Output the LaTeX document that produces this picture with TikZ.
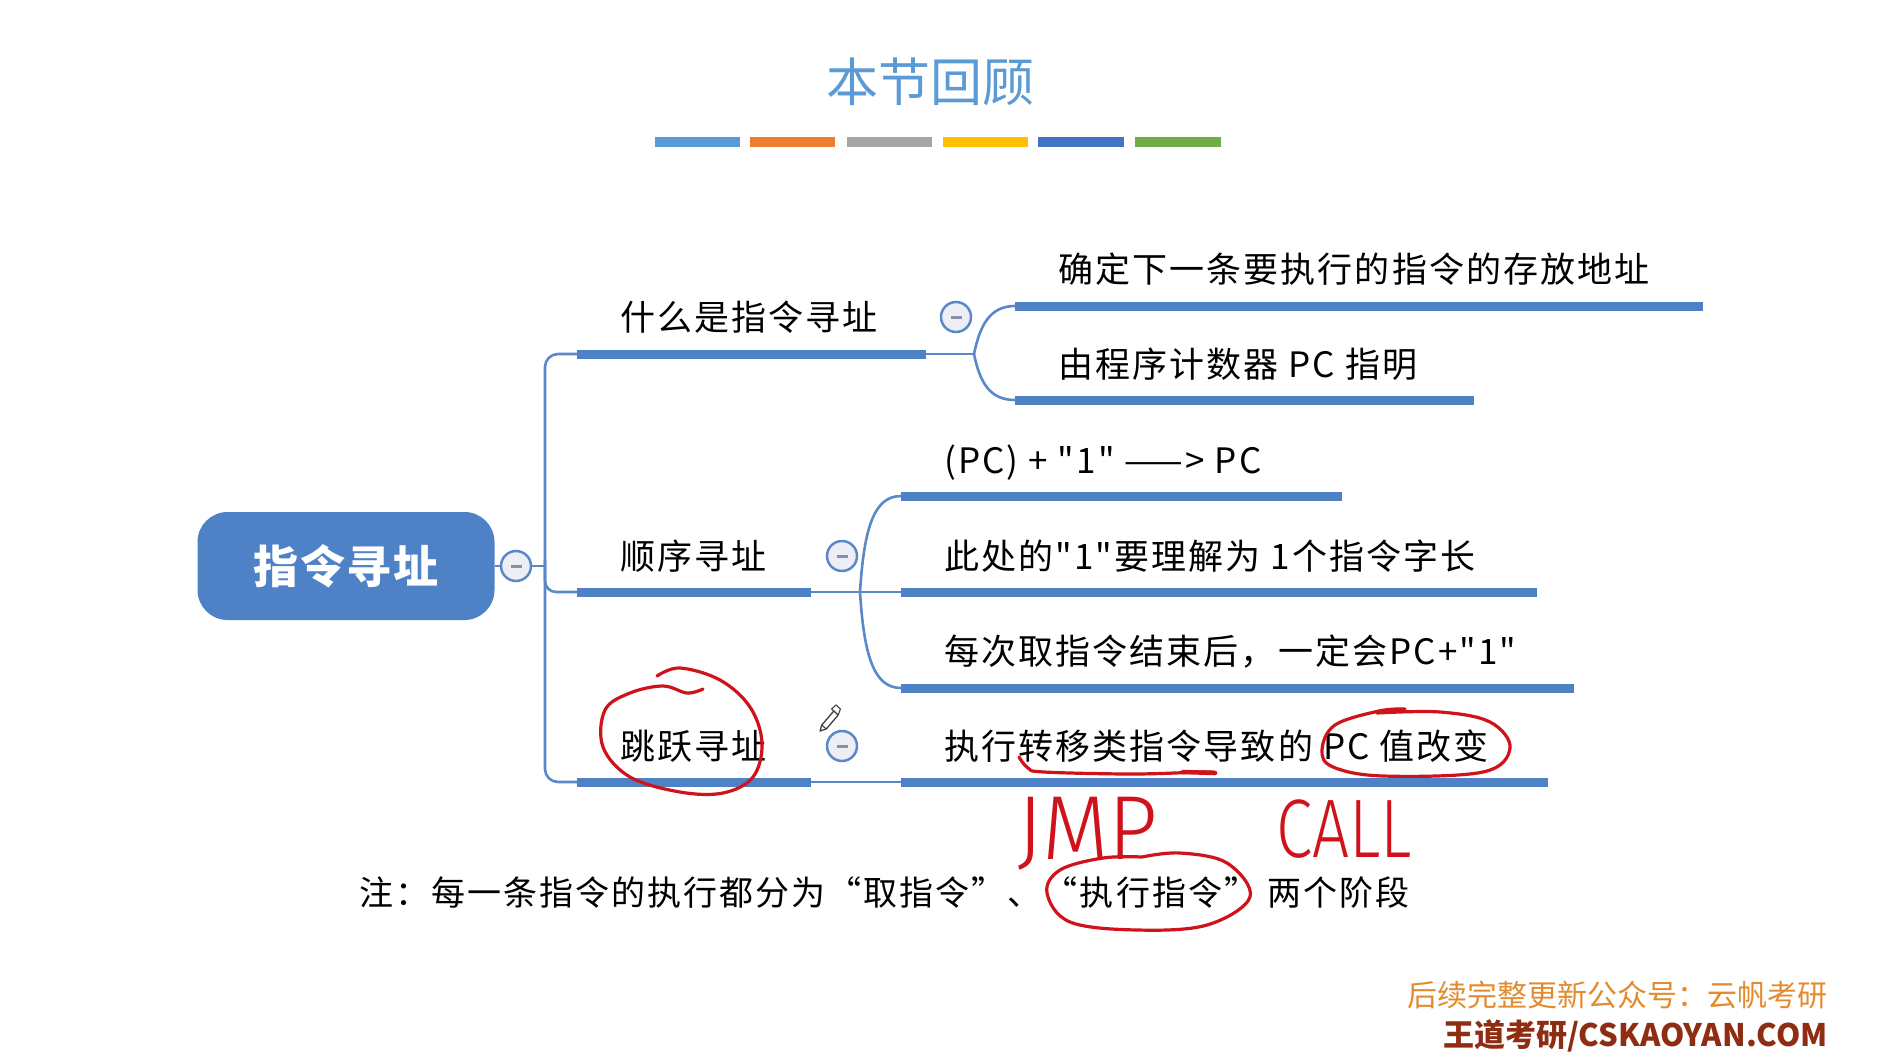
\documentclass[tikz,border=0pt]{standalone}
\usepackage{fontspec}
\newfontfamily\cjk{Noto Sans CJK SC}
\newfontfamily\cjkls{Noto Sans CJK SC}[LetterSpace=6]
\newfontfamily\cjknote{Noto Sans CJK SC}[LetterSpace=6]
\newfontfamily\hand{Fira Sans Light}
\definecolor{mmblue}{HTML}{4F81C7}
\definecolor{lineblue}{HTML}{5A88C8}
\definecolor{titleblue}{HTML}{5B9BD5}
\definecolor{bBlue}{HTML}{5B9BD5}
\definecolor{bOrange}{HTML}{ED7D31}
\definecolor{bGray}{HTML}{A5A5A5}
\definecolor{bYellow}{HTML}{FFC000}
\definecolor{bDark}{HTML}{4472C4}
\definecolor{bGreen}{HTML}{70AD47}
\definecolor{inkred}{HTML}{D0121B}
\definecolor{footorange}{HTML}{E38B2F}
\definecolor{footbrown}{HTML}{8E2D12}
\definecolor{circfill}{HTML}{EEEFF4}
\definecolor{minusgray}{HTML}{8A8FAE}
\begin{document}
\begin{tikzpicture}[x=1pt,y=-1pt,
  txt/.style={font=\cjkls\fontsize{35}{40}\selectfont, anchor=base west, inner sep=0pt},
  bar/.style={line width=9pt, mmblue},
  conn/.style={line width=2.6pt, lineblue},
  rootbox/.style={fill=mmblue, rounded corners=30pt, minimum width=297pt, minimum height=108pt,
     text=white, font=\cjk\bfseries\fontsize{45}{50}\selectfont\addfontfeature{LetterSpace=4}},
  collapse/.style={circle, draw=lineblue, line width=2.5pt, fill=circfill, minimum size=30pt, inner sep=0pt},
  ink/.style={draw=inkred, line width=3.2pt, line cap=round, line join=round},
  handtxt/.style={font=\hand, text=inkred, anchor=base west, inner sep=0pt}
]
\useasboundingbox (0,0) rectangle (1902,1062);
\fill[white] (0,0) rectangle (1902,1062);

% title
\node[font=\cjk\fontsize{52}{56}\selectfont, text=titleblue, anchor=base, inner sep=0pt] (title) at (930,102) {本节回顾};
\fill[bBlue]   (655,137) rectangle (740,147);
\fill[bOrange] (750,137) rectangle (835,147);
\fill[bGray]   (847,137) rectangle (932,147);
\fill[bYellow] (943,137) rectangle (1028,147);
\fill[bDark]   (1038,137) rectangle (1124,147);
\fill[bGreen]  (1135,137) rectangle (1221,147);

% root
\node[rootbox] (root) at (346,566) {指令寻址};
\node[collapse] (c0) at (516,566) {\textcolor{minusgray}{\rule{11pt}{3pt}}};

% spine coordinates
\coordinate (sRoot) at (545,566);
\coordinate (sTop) at (545,354);
\coordinate (sBot) at (545,782);
\coordinate (sMid) at (545,560);
\coordinate (sMidC) at (545,592);
\coordinate (q1s) at (577,354); \coordinate (q1e) at (926,354);
\coordinate (q2s) at (577,592); \coordinate (q2e) at (811,592);
\coordinate (q3s) at (577,782); \coordinate (q3e) at (811,782);

\draw[conn] (root.east) -- (c0.west);
\draw[conn] (c0.east) -- (sRoot);
\draw[conn, rounded corners=13pt] (q1s) -- (sTop) -- (sBot) -- (q3s);
\draw[conn, rounded corners=11pt] (sMid) -- (sMidC) -- (q2s);

% level 1 labels and bars
\node[txt] (q1) at (620,330) {什么是指令寻址};
\node[txt] (q2) at (620,569) {顺序寻址};
\node[txt] (q3) at (620,759) {跳跃寻址};
\draw[bar] (q1s) -- (q1e);
\draw[bar] (q2s) -- (q2e);
\draw[bar] (q3s) -- (q3e);

\node[collapse] (c1) at (956,317) {\textcolor{minusgray}{\rule{11pt}{3pt}}};
\node[collapse] (c2) at (842,556) {\textcolor{minusgray}{\rule{11pt}{3pt}}};
\node[collapse] (c3) at (842,746) {\textcolor{minusgray}{\rule{11pt}{3pt}}};

% branch 1 children
\coordinate (j1) at (974,354);
\coordinate (a1s) at (1015,306); \coordinate (a1e) at (1703,306);
\coordinate (a2s) at (1015,400); \coordinate (a2e) at (1474,400);
\draw[conn] (q1e) -- (j1);
\draw[conn] (j1) .. controls (980,325) and (990,306) .. (a1s);
\draw[conn] (j1) .. controls (980,383) and (990,400) .. (a2s);
\draw[bar] (a1s) -- (a1e);
\draw[bar] (a2s) -- (a2e);
\node[txt] (a1) at (1058,282) {确定下一条要执行的指令的存放地址};
\node[txt] (a2) at (1058,377) {由程序计数器 PC 指明};

% branch 2 children
\coordinate (j2) at (860,592);
\coordinate (b1s) at (901,496); \coordinate (b1e) at (1342,496);
\coordinate (b2s) at (901,592); \coordinate (b2e) at (1537,592);
\coordinate (b3s) at (901,688); \coordinate (b3e) at (1574,688);
\draw[conn] (q2e) -- (b2s);
\draw[conn] (j2) .. controls (864,528) and (874,496) .. (b1s);
\draw[conn] (j2) .. controls (864,656) and (874,688) .. (b3s);
\draw[bar] (b1s) -- (b1e);
\draw[bar] (b2s) -- (b2e);
\draw[bar] (b3s) -- (b3e);
\node[txt] (b1) at (944,473) {(PC) + "1" ——> PC};
\node[txt] (b2) at (944,569) {此处的"1"要理解为 1个指令字长};
\node[txt] (b3) at (944,664) {每次取指令结束后，一定会PC+"1"};

% branch 3 child
\coordinate (c1s) at (901,782); \coordinate (c1e) at (1548,782);
\draw[conn] (q3e) -- (c1s);
\draw[bar] (c1s) -- (c1e);
\node[txt] (cc) at (944,759) {执行转移类指令导致的 PC 值改变};

% note
\node[font=\cjknote\fontsize{34}{38}\selectfont, anchor=base west, inner sep=0pt] (note) at (359,905) {注：每一条指令的执行都分为“取指令”、“执行指令” 两个阶段};

% footer
\node[font=\cjk\fontsize{30}{34}\selectfont, text=footorange, anchor=base east, inner sep=0pt] (f1) at (1828,1006) {后续完整更新公众号：云帆考研};
\node[font=\cjk\bfseries\fontsize{31}{34}\selectfont, text=footbrown, anchor=base east, inner sep=0pt] (f2) at (1828,1046) {王道考研/CSKAOYAN.COM};

% pencil cursor
\draw[line width=1.3pt, black!75, fill=white, line join=round]
  (820,731) -- (826.2,729) -- (838.2,715) -- (833.8,711) -- (821.8,725) -- cycle;
\draw[line width=1.1pt, black!75] (821.8,725) -- (826.2,729);
\draw[line width=1.1pt, black!75] (833.8,711) -- (831.6,709) -- (836,705) -- (840.4,709) -- (838.2,715);

% handwritten annotations
\draw[ink] plot[smooth, tension=0.6] coordinates {(657,676) (680,668) (720,680) (750,707) (762,743) (753,777) (723,793) (680,792) (630,777) (603,747) (605,710) (630,693) (663,686) (687,693) (703,689)};
\draw[ink] plot[smooth, tension=0.6] coordinates {(1019,757) (1028,768) (1044,772) (1133,774) (1204,772) (1215,773)};
\draw[ink, line width=4.5pt] (1183,772) -- (1215,773);
\draw[ink] plot[smooth, tension=0.6] coordinates {(1377,713) (1440,712) (1490,722) (1510,748) (1483,772) (1383,776) (1333,767) (1322,750) (1335,725) (1379,711) (1405,709)};
\draw[ink] plot[smooth, tension=0.6] coordinates {(1142,857) (1180,853) (1227,863) (1250,897) (1207,925) (1137,930) (1070,922) (1047,893) (1060,870) (1103,858) (1142,857)};
\node[handtxt, font=\hand\fontsize{91}{95}\selectfont, xscale=0.95] (jmp) at (1017,859) {JMP};
\node[handtxt, font=\hand\fontsize{83}{88}\selectfont, xscale=0.79] (call) at (1276,857) {CALL};
\end{tikzpicture}
\end{document}
